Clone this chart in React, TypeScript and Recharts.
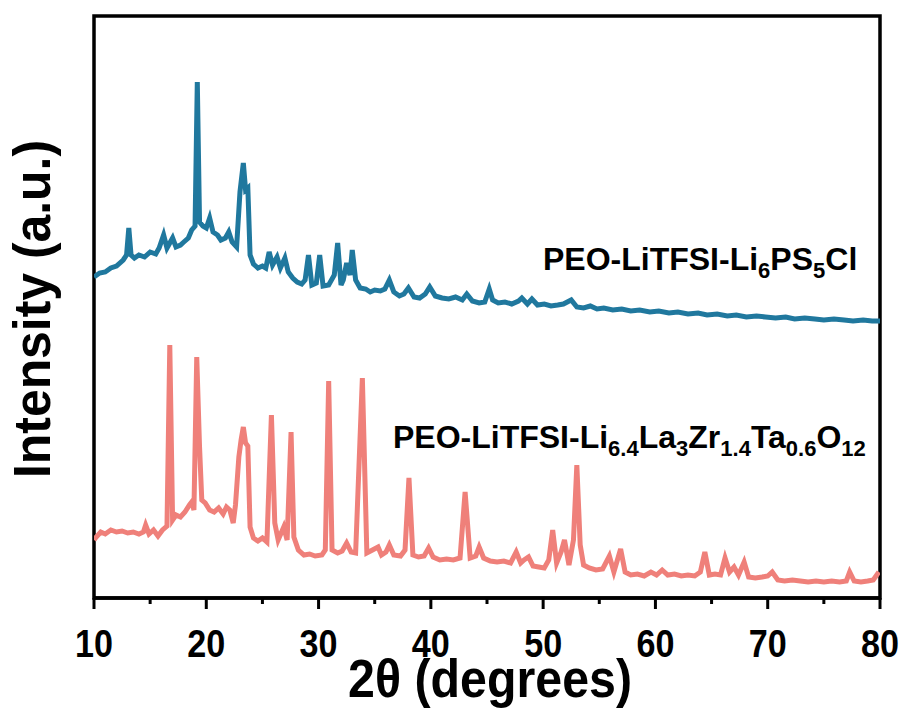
import { LineChart, Line, XAxis, YAxis, ReferenceArea, Label } from 'recharts';

// 2θ positions and intensities (a.u.)
const ps5clTheta = [
  10.0, 10.5, 11.0, 11.5, 12.0, 12.6, 12.9, 13.1, 13.3, 13.6, 14.0, 14.5, 15.0, 15.5, 15.8, 16.2, 16.5, 17.0, 17.3, 17.7,
  18.0, 18.4, 18.7, 19.0, 19.2, 19.4, 19.7, 20.0, 20.3, 20.6, 21.0, 21.3, 21.7, 22.0, 22.3, 22.7, 23.0, 23.3, 23.5, 23.7,
  23.9, 24.2, 24.6, 25.0, 25.3, 25.6, 25.9, 26.3, 26.6, 27.0, 27.3, 27.7, 28.1, 28.5, 28.8, 29.1, 29.4, 29.8, 30.1, 30.4,
  30.9, 31.4, 31.7, 32.0, 32.2, 32.5, 32.8, 33.0, 33.3, 33.7, 34.2, 34.6, 35.0, 35.5, 35.9, 36.3, 36.7, 37.2, 37.6, 38.0,
  38.5, 39.0, 39.5, 39.9, 40.4, 41.0, 41.6, 42.2, 42.8, 43.2, 43.7, 44.3, 44.8, 45.2, 45.5, 46.0, 46.6, 47.2, 47.8, 48.1,
  48.6, 49.0, 49.5, 50.1, 50.7, 51.3, 51.8, 52.5, 53.0, 53.6, 54.2, 54.8, 55.4, 56.2, 57.0, 57.8, 58.6, 59.5, 60.3, 61.2,
  62.0, 62.9, 63.8, 64.6, 65.5, 66.4, 67.2, 68.1, 69.0, 69.8, 70.7, 71.6, 72.4, 73.3, 74.2, 75.0, 75.9, 76.8, 77.6, 78.5,
  79.3, 80.0,
];
const ps5clCounts = [
  321, 325, 326, 330, 332, 338, 343, 370, 343, 340, 343, 341, 346, 344, 350, 363, 350, 360, 351, 353,
  356, 360, 368, 372, 516, 376, 372, 370, 380, 366, 363, 358, 360, 366, 356, 351, 406, 435, 408, 410,
  343, 334, 330, 332, 330, 346, 333, 341, 330, 340, 326, 320, 316, 314, 318, 343, 313, 315, 343, 312,
  313, 323, 355, 313, 318, 335, 323, 348, 318, 310, 309, 306, 308, 307, 309, 318, 306, 302, 304, 310,
  301, 300, 304, 311, 302, 300, 299, 301, 298, 304, 297, 295, 296, 309, 298, 295, 296, 294, 297, 300,
  294, 299, 293, 294, 292, 293, 294, 298, 291, 290, 292, 289, 290, 288, 289, 287, 288, 286, 287, 285,
  286, 284, 285, 283, 284, 282, 283, 281, 282, 281, 280, 281, 279, 280, 279, 278, 279, 278, 277, 278,
  277, 277,
];

const llztoTheta = [
  10.0, 10.2, 10.6, 11.0, 11.5, 12.0, 12.5, 13.0, 13.5, 14.0, 14.4, 14.6, 14.9, 15.3, 15.7, 16.1, 16.5, 16.75, 17.0, 17.3,
  17.7, 18.1, 18.5, 18.7, 18.9, 19.15, 19.4, 19.6, 19.9, 20.3, 20.7, 21.1, 21.5, 21.8, 22.1, 22.4, 22.6, 22.9, 23.1, 23.3,
  23.5, 23.7, 23.9, 24.2, 24.6, 25.0, 25.4, 25.8, 26.1, 26.4, 26.9, 27.2, 27.55, 27.8, 28.2, 28.7, 29.2, 29.7, 30.3, 30.6,
  30.9, 31.2, 31.7, 32.1, 32.5, 32.9, 33.3, 33.9, 34.3, 34.8, 35.3, 35.6, 36.0, 36.3, 36.7, 37.3, 37.7, 38.05, 38.4, 38.9,
  39.4, 39.8, 40.2, 40.8, 41.4, 42.0, 42.6, 43.05, 43.5, 44.0, 44.3, 44.7, 45.3, 45.9, 46.5, 47.1, 47.6, 48.0, 48.3, 48.7,
  49.1, 49.6, 50.1, 50.5, 50.85, 51.2, 51.6, 51.9, 52.3, 52.7, 53.0, 53.3, 53.6, 54.1, 54.7, 55.3, 55.9, 56.3, 56.9, 57.3,
  57.8, 58.4, 59.0, 59.6, 60.1, 60.6, 61.1, 61.7, 62.3, 62.9, 63.5, 64.0, 64.4, 64.8, 65.3, 65.8, 66.2, 66.6, 67.0, 67.4,
  67.9, 68.3, 68.9, 69.5, 70.0, 70.4, 70.9, 71.5, 72.2, 72.9, 73.6, 74.3, 75.0, 75.7, 76.4, 77.0, 77.3, 77.7, 78.3, 78.9,
  79.4, 79.9,
];
const llztoCounts = [
  58, 61, 66, 64, 68, 66, 67, 65, 66, 64, 66, 73, 64, 68, 62, 68, 72, 253, 78, 83,
  81, 86, 93, 96, 88, 241, 151, 98, 95, 88, 86, 90, 84, 91, 88, 75, 93, 141, 158, 171,
  155, 152, 71, 60, 57, 60, 56, 183, 75, 58, 71, 58, 166, 61, 48, 43, 44, 42, 43, 48,
  217, 48, 45, 47, 55, 46, 45, 220, 45, 48, 51, 43, 46, 53, 43, 42, 48, 120, 43, 41,
  42, 50, 41, 38, 39, 38, 40, 106, 40, 42, 51, 40, 37, 36, 37, 35, 46, 35, 38, 41,
  32, 31, 30, 38, 68, 35, 46, 58, 33, 58, 133, 53, 33, 30, 28, 29, 42, 26, 49, 26,
  23, 24, 22, 26, 23, 28, 23, 24, 22, 23, 22, 26, 46, 23, 24, 23, 40, 26, 31, 23,
  36, 21, 20, 21, 22, 26, 18, 17, 18, 17, 16, 17, 16, 17, 16, 17, 26, 17, 16, 17,
  18, 26,
];

const xTicks = [10, 15, 20, 25, 30, 35, 40, 45, 50, 55, 60, 65, 70, 75, 80];

const ps5clData = ps5clTheta.map((x, i) => ({ x, y: ps5clCounts[i] }));
const llztoData = llztoTheta.map((x, i) => ({ x, y: llztoCounts[i] }));

const FONT = '"Liberation Sans", Arial, Helvetica, sans-serif';

function XTick(props: any) {
  const { x, y, payload } = props;
  const major = payload.value % 10 === 0;
  return (
    <g>
      <line x1={x} x2={x} y1={y} y2={y + (major ? 11 : 6)} stroke="#000" strokeWidth={3} />
      {major && (
        <text
          x={x}
          y={y + 59}
          textAnchor="middle"
          fontFamily={FONT}
          fontWeight="bold"
          fontSize={38}
          textLength={38}
          lengthAdjust="spacingAndGlyphs"
          fill="#000"
        >
          {payload.value}
        </text>
      )}
    </g>
  );
}

export default function App() {
  return (
    <div style={{ position: 'absolute', left: 0, top: 0, width: 907, height: 709, background: '#fff' }}>
      <LineChart width={907} height={709} margin={{ top: 16, right: 27, left: 94, bottom: 0 }}>
        <XAxis
          type="number"
          dataKey="x"
          domain={[10, 80]}
          ticks={xTicks}
          interval={0}
          height={111}
          tickSize={0}
          tickMargin={0}
          tick={<XTick />}
          axisLine={{ stroke: '#000', strokeWidth: 3.5 }}
          allowDataOverflow
        >
          <Label
            content={() => (
              <text
                x={490}
                y={697}
                textAnchor="middle"
                fontFamily={FONT}
                fontWeight="bold"
                fontSize={54}
                textLength={284}
                lengthAdjust="spacingAndGlyphs"
                fill="#000"
              >
                2θ (degrees)
              </text>
            )}
          />
        </XAxis>
        <YAxis type="number" domain={[0, 582]} hide allowDataOverflow />
        <Line
          data={llztoData}
          dataKey="y"
          type="linear"
          stroke="#ef807a"
          strokeWidth={5}
          dot={false}
          isAnimationActive={false}
        />
        <Line
          data={ps5clData}
          dataKey="y"
          type="linear"
          stroke="#20789e"
          strokeWidth={5}
          dot={false}
          isAnimationActive={false}
        />
        <ReferenceArea x1={10} x2={80} y1={0} y2={582} fill="none" stroke="#000" strokeWidth={3.5} ifOverflow="visible" />
      </LineChart>
      <svg width={907} height={709} style={{ position: 'absolute', left: 0, top: 0, pointerEvents: 'none' }}>
        <text
          transform="translate(50,309) rotate(-90)"
          textAnchor="middle"
          fontFamily={FONT}
          fontWeight="bold"
          fontSize={52}
          textLength={338}
          lengthAdjust="spacingAndGlyphs"
          fill="#000"
        >
          Intensity (a.u.)
        </text>
        <text x={543} y={270} fontFamily={FONT} fontWeight="bold" fontSize={32} fill="#000">
          PEO-LiTFSI-Li
          <tspan fontSize={22} dy={8}>6</tspan>
          <tspan dy={-8}>PS</tspan>
          <tspan fontSize={22} dy={8}>5</tspan>
          <tspan dy={-8}>Cl</tspan>
        </text>
        <text x={393} y={448} fontFamily={FONT} fontWeight="bold" fontSize={32} fill="#000">
          PEO-LiTFSI-Li
          <tspan fontSize={22} dy={8}>6.4</tspan>
          <tspan dy={-8}>La</tspan>
          <tspan fontSize={22} dy={8}>3</tspan>
          <tspan dy={-8}>Zr</tspan>
          <tspan fontSize={22} dy={8}>1.4</tspan>
          <tspan dy={-8}>Ta</tspan>
          <tspan fontSize={22} dy={8}>0.6</tspan>
          <tspan dy={-8}>O</tspan>
          <tspan fontSize={22} dy={8}>12</tspan>
        </text>
      </svg>
    </div>
  );
}
